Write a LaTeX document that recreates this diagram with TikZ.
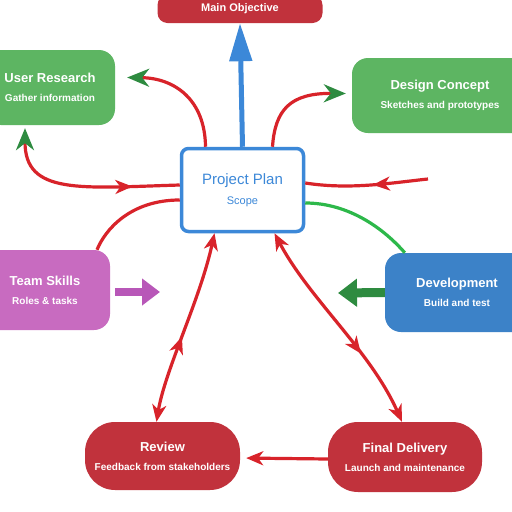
\documentclass[tikz,border=0pt]{standalone}
\usepackage{fontspec}
\setmainfont{Liberation Sans}
\usetikzlibrary{arrows.meta,decorations.markings}
\definecolor{boxgreen}{HTML}{5DB562}
\definecolor{boxred}{HTML}{C1323C}
\definecolor{boxblue}{HTML}{3C82C8}
\definecolor{boxpink}{HTML}{C86BC0}
\definecolor{hubblue}{HTML}{3C88D8}
\definecolor{linered}{HTML}{D8232A}
\definecolor{linegreen}{HTML}{2DB84A}
\definecolor{tipgreen}{HTML}{2E8B40}
\definecolor{tippink}{HTML}{B857B8}
\newcommand{\twolines}[2]{{\fontsize{13}{15}\selectfont\bfseries #1}\\[7pt]{\fontsize{10}{12}\selectfont\bfseries #2}}
\tikzset{
  redtip/.tip={Stealth[length=17pt,width=14pt,inset=5pt]},
  greentip/.tip={Stealth[length=22pt,width=18pt,inset=7pt,color=tipgreen]}}

\begin{document}
\begin{tikzpicture}[x=1pt,y=-1pt,
  box/.style={rectangle,rounded corners=16pt,fill=#1,text=white,align=center,inner sep=0pt},
  redline/.style={color=linered,line width=3.2pt},
  midfwd/.style={postaction={decorate,decoration={markings,mark=at position #1 with {\arrow{redtip}}}}},
  midback/.style={postaction={decorate,decoration={markings,mark=at position #1 with {\arrowreversed{redtip}}}}}]
\clip (0,0) rectangle (512,512);
\fill[white] (0,0) rectangle (512,512);
% boxes
\node[box=boxred,rounded corners=10pt,minimum width=165pt,minimum height=28pt] (topbox) at (240,9) {\fontsize{11}{13}\selectfont\bfseries Main Objective};
\node[box=boxgreen,minimum width=130pt,minimum height=75pt] (tlbox) at (50,87.5) {\twolines{User Research}{Gather information}};
\node[box=boxgreen,minimum width=176pt,minimum height=75pt] (trbox) at (440,95.5) {\twolines{Design Concept}{Sketches and prototypes}};
\node[box=boxpink,minimum width=130pt,minimum height=80pt] (mgbox) at (45,290) {\twolines{Team Skills}{Roles \& tasks}};
\node[box=boxblue,minimum width=144pt,minimum height=79pt] (rbbox) at (457,292.5) {\twolines{Development}{Build and test}};
\node[box=boxred,rounded corners=30pt,minimum width=155pt,minimum height=68pt] (blbox) at (162.5,456) {\twolines{Review}{Feedback from stakeholders}};
\node[box=boxred,rounded corners=30pt,minimum width=154pt,minimum height=70pt] (brbox) at (405,457) {\twolines{Final Delivery}{Launch and maintenance}};
\node[draw=hubblue,line width=3.5pt,rounded corners=7pt,fill=white,minimum width=122pt,minimum height=83pt,align=center,text=hubblue] (hub) at (242.5,190)
  {{\fontsize{15}{17}\selectfont Project Plan}\\[8pt]{\fontsize{11}{13}\selectfont Scope}};
% connectors
\draw[hubblue,line width=5pt,-{Triangle[length=38pt,width=22pt]}] (hub.north) -- (topbox.south);
\draw[redline,-{greentip}] ([xshift=-37pt]hub.north) .. controls (205,100) and (175,78) .. ([xshift=12pt,yshift=10pt]tlbox.east);
\draw[redline,-{greentip}] ([xshift=30pt]hub.north) .. controls (275,110) and (290,93) .. ([xshift=-6pt,yshift=2pt]trbox.west);
\draw[redline,{greentip}-,midfwd=0.75] ([xshift=-25pt,yshift=-3pt]tlbox.south) .. controls (25,195) and (80,188) .. ([yshift=5pt]hub.west);
\draw[redline] ([yshift=-10pt]hub.west) .. controls (130,200) and (105,230) .. ([xshift=52pt]mgbox.north);
\coordinate (rightend) at (428,179);
\draw[redline,midfwd=0.45] (rightend) .. controls (390,183) and (350,190) .. ([yshift=7pt]hub.east);
\draw[linegreen,line width=3.2pt] ([yshift=-13pt]hub.east) .. controls (350,203) and (385,230) .. ([xshift=20pt]rbbox.north west);
\draw[redline,{redtip}-{redtip},midback=0.55] ([xshift=-28pt]hub.south) .. controls (200,300) and (165,370) .. ([xshift=-6pt]blbox.north);
\draw[redline,{redtip}-{redtip},midfwd=0.65] ([xshift=32pt]hub.south) .. controls (310,300) and (370,350) .. ([xshift=-3pt]brbox.north);
\draw[redline,-{redtip},shorten >=6pt] ([yshift=-2pt]brbox.west) -- ([yshift=-2pt]blbox.east);
% side arrows
\coordinate (pinkend) at (160,292);
\coordinate (greenend) at (338,293);
\draw[tippink,line width=8pt,-{Triangle[length=18pt,width=26pt]}] ([xshift=5pt,yshift=-2pt]mgbox.east) -- (pinkend);
\draw[tipgreen,line width=9pt,-{Triangle[length=19pt,width=27pt]}] (rbbox.west) -- (greenend);
\end{tikzpicture}
\end{document}
